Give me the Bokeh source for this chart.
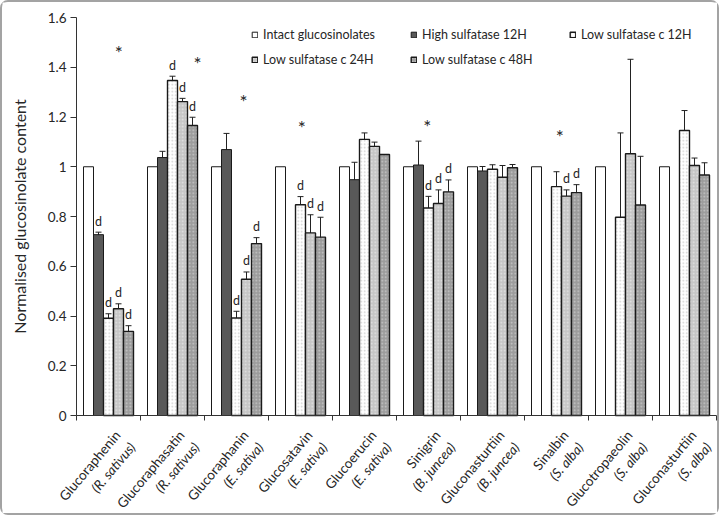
import math
from bokeh.plotting import figure
from bokeh.models import (ColumnDataSource, Whisker, TeeHead, Legend, LegendItem,
                          FixedTicker, Range1d)
from bokeh.core.properties import value
from bokeh.embed import file_html
from bokeh.resources import INLINE

nan = float("nan")

# Glucosinolate / plant source for each group of bars
compounds = ["Glucoraphenin", "Glucoraphasatin", "Glucoraphanin", "Glucosatavin",
             "Glucoerucin", "Sinigrin", "Gluconasturtiin", "Sinalbin",
             "Glucotropaeolin", "Gluconasturtiin"]
species = ["R. sativus", "R. sativus", "E. sativa", "E. sativa", "E. sativa",
           "B. juncea", "B. juncea", "S. alba", "S. alba", "S. alba"]

series_names = ["Intact glucosinolates", "High sulfatase 12H", "Low sulfatase c 12H",
                "Low sulfatase c 24H", "Low sulfatase c 48H"]

# Normalised content (intact = 1) and standard errors; nan = not measured
intact = [1.0, 1.0, 1.0, 1.0, 1.0, 1.0, 1.0, 1.0, 1.0, 1.0]
intact_err = [nan] * 10
high_12h = [0.727, 1.037, 1.069, nan, 0.948, 1.007, 0.983, nan, nan, nan]
high_12h_err = [0.010, 0.025, 0.065, nan, 0.070, 0.096, 0.018, nan, nan, nan]
low_12h = [0.391, 1.347, 0.392, 0.847, 1.110, 0.834, 0.990, 0.920, 0.797, 1.146]
low_12h_err = [0.018, 0.017, 0.027, 0.033, 0.026, 0.047, 0.018, 0.060, 0.339, 0.080]
low_24h = [0.429, 1.262, 0.548, 0.734, 1.082, 0.852, 0.958, 0.882, 1.052, 1.005]
low_24h_err = [0.020, 0.013, 0.029, 0.073, 0.017, 0.055, 0.047, 0.025, 0.380, 0.030]
low_48h = [0.338, 1.166, 0.691, 0.717, 1.049, 0.899, 0.996, 0.896, 0.846, 0.967]
low_48h_err = [0.023, 0.033, 0.024, 0.080, nan, 0.048, 0.013, 0.032, 0.196, 0.049]

series_values = [intact, high_12h, low_12h, low_24h, low_48h]
series_errors = [intact_err, high_12h_err, low_12h_err, low_24h_err, low_48h_err]

# bars marked "d" as (group index, series index)
d_marks = [(0, 1), (0, 2), (0, 3), (0, 4), (1, 2), (1, 3), (1, 4), (2, 2), (2, 3), (2, 4),
           (3, 2), (3, 3), (3, 4), (5, 2), (5, 3), (5, 4), (7, 3), (7, 4)]

# significance asterisks: (group index, position inside group, height)
star_marks = [(0, 0.66, 1.475), (1, 0.89, 1.431), (2, 0.61, 1.278),
              (3, 0.52, 1.174), (5, 0.48, 1.178), (7, 0.55, 1.138)]

y_ticks = [0, 0.2, 0.4, 0.6, 0.8, 1, 1.2, 1.4, 1.6]
y_tick_labels = ["0", "0.2", "0.4", "0.6", "0.8", "1", "1.2", "1.4", "1.6"]

FONT = "Lato"
TEXT = "#262626"
BAR_W = 0.15625
LABEL_ANGLE = math.radians(50)

styles = [
    dict(fill_color="white", line_color="#1a1a1a", line_width=1),
    dict(fill_color="#595959", line_color="#1a1a1a", line_width=1),
    dict(fill_color="white", line_color="#1a1a1a", line_width=1.4,
         hatch_pattern="dot", hatch_color="#cfcfcf", hatch_scale=3.5, hatch_weight=1),
    dict(fill_color="#c6c6c6", line_color="#1a1a1a", line_width=1.4,
         hatch_pattern="dot", hatch_color="#e4e4e4", hatch_scale=3.5, hatch_weight=1),
    dict(fill_color="#9c9c9c", line_color="#1a1a1a", line_width=1.4,
         hatch_pattern="dot", hatch_color="#c9c9c9", hatch_scale=3.5, hatch_weight=1),
]

# The frame covers the whole canvas; both axes are pinned at zero so the
# rotated group names and the y-axis title can be drawn around them.
p = figure(width=719, height=515,
           x_range=Range1d(-74 / 64, 645 / 64), y_range=Range1d(-102 / 248.75, 413 / 248.75),
           output_backend="svg", toolbar_location=None, min_border=0)
p.styles = {"border": "2px solid #a3a3a3", "border-radius": "8px"}
p.outline_line_color = None
p.xgrid.visible = False
p.ygrid.visible = False

def bar_x(i, j):
    return i + 0.5 + (j - 2) * BAR_W

legend_items = []
for j, (vals, errs) in enumerate(zip(series_values, series_errors)):
    xs, tops = [], []
    ex, lo, hi = [], [], []
    for i, v in enumerate(vals):
        if math.isnan(v):
            continue
        xs.append(bar_x(i, j))
        tops.append(v)
        e = errs[i]
        if not math.isnan(e):
            ex.append(bar_x(i, j))
            lo.append(v - e)
            hi.append(v + e)
    src = ColumnDataSource(dict(x=xs, top=tops))
    r = p.vbar(x="x", top="top", bottom=0, width=BAR_W, source=src, **styles[j])
    legend_items.append(LegendItem(label=series_names[j], renderers=[r]))
    if ex:
        esrc = ColumnDataSource(dict(x=ex, lower=lo, upper=hi))
        p.add_layout(Whisker(source=esrc, base="x", lower="lower", upper="upper",
                             line_color="#222222", line_width=1,
                             upper_head=TeeHead(size=6, line_color="#222222", line_width=1),
                             lower_head=TeeHead(size=6, line_color="#222222", line_width=1)))

# "d" labels just above each marked error bar
dx, dy = [], []
for i, j in d_marks:
    v = series_values[j][i]
    e = series_errors[j][i]
    dx.append(bar_x(i, j))
    dy.append(v + (0 if math.isnan(e) else e))
p.text(x=dx, y=dy, text=["d"] * len(dx), text_font=value(FONT), text_font_size="12.5px",
       text_color=TEXT, text_align="center", text_baseline="middle", y_offset=-11)

sx = [i + f for i, f, h in star_marks]
sy = [h for i, f, h in star_marks]
p.text(x=sx, y=sy, text=["*"] * len(sx), text_font=value(FONT), text_font_size="19px",
       text_color=TEXT, text_align="center", text_baseline="middle", y_offset=4)

# axes
p.yaxis.fixed_location = 0
p.yaxis.bounds = (0, 1.6)
p.yaxis.ticker = FixedTicker(ticks=y_ticks)
p.yaxis.major_label_overrides = {t: s for t, s in zip(y_ticks, y_tick_labels)}
p.yaxis.minor_tick_line_color = None
p.yaxis.major_tick_out = 6
p.yaxis.major_tick_in = 0
p.yaxis.major_label_standoff = 4
p.yaxis.major_label_text_font = FONT
p.yaxis.major_label_text_font_size = "13.5px"
p.yaxis.major_label_text_color = TEXT
p.yaxis.axis_label = "Normalised glucosinolate content"
p.yaxis.axis_label_text_font = FONT
p.yaxis.axis_label_text_font_style = "normal"
p.yaxis.axis_label_text_font_size = "16px"
p.yaxis.axis_label_text_color = TEXT
p.yaxis.axis_label_standoff = 16
p.yaxis.axis_line_color = "#333333"
p.yaxis.major_tick_line_color = "#333333"

p.xaxis.fixed_location = 0
p.xaxis.bounds = (0, 10)
p.xaxis.ticker = FixedTicker(ticks=list(range(11)))
p.xaxis.major_label_overrides = {i: "" for i in range(11)}
p.xaxis.minor_tick_line_color = None
p.xaxis.major_tick_out = 5
p.xaxis.major_tick_in = 0
p.xaxis.axis_line_color = "#333333"
p.xaxis.major_tick_line_color = "#333333"

# rotated two-line group names under the axis
centers = [i + 0.5 for i in range(10)]
p.text(x=centers, y=[0] * 10, text=compounds, angle=LABEL_ANGLE,
       x_offset=9, y_offset=17, text_align="right", text_baseline="middle",
       text_font=value(FONT), text_font_size="13.5px", text_color=TEXT)
p.text(x=centers, y=[0] * 10, text=["(" + s + ")" for s in species], angle=LABEL_ANGLE,
       x_offset=24, y_offset=29, text_align="right", text_baseline="middle",
       text_font=value(FONT), text_font_size="13.5px", text_font_style="italic",
       text_color=TEXT)

legend = Legend(items=legend_items, location=(249, 450), orientation="horizontal", ncols=3,
                glyph_width=7, glyph_height=7, label_standoff=5, label_width=137,
                label_height=15, spacing=10, padding=0, margin=0,
                border_line_color=None, background_fill_alpha=0,
                label_text_font=FONT, label_text_font_size="12.5px", label_text_color=TEXT)
p.add_layout(legend)

open("out.html", "w").write(file_html(p, INLINE))
